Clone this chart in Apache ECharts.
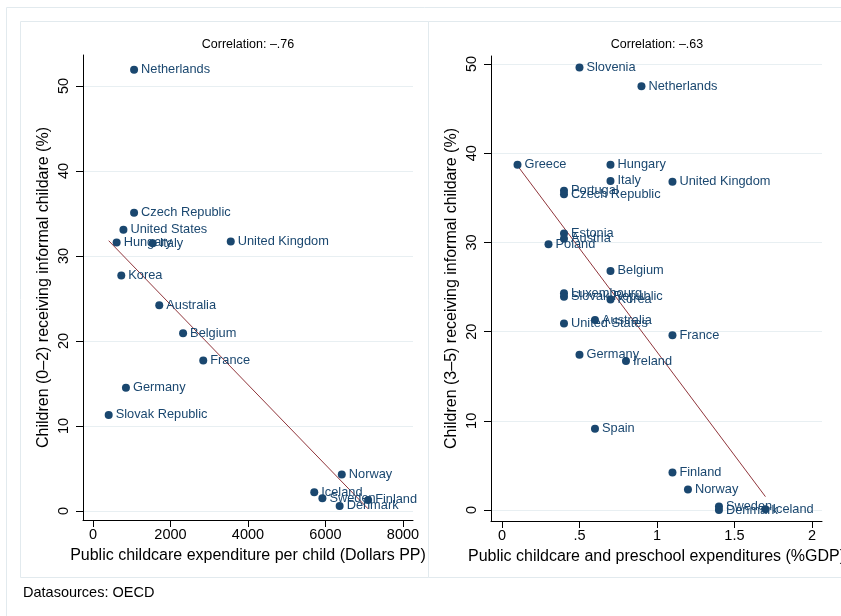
<!DOCTYPE html>
<html>
<head>
<meta charset="utf-8">
<script src="https://cdn.jsdelivr.net/npm/echarts@6/dist/echarts.min.js"></script>
<style>
  html, body { margin: 0; padding: 0; background: #ffffff; }
  #chart { width: 841px; height: 616px; }
</style>
</head>
<body>
<div id="chart"></div>
<script>
// Children 0-2: public childcare spending per child (Dollars PP) vs informal childcare share (%)
const countriesA = ['Netherlands', 'Czech Republic', 'United States', 'Hungary', 'Italy',
  'United Kingdom', 'Korea', 'Australia', 'Belgium', 'France', 'Germany', 'Slovak Republic',
  'Norway', 'Iceland', 'Sweden', 'Finland', 'Denmark'];
const spendA = [1060, 1060, 785, 610, 1540, 3555, 730, 1710, 2325, 2845, 850, 405,
  6420, 5710, 5920, 7100, 6365];
const informalA = [51.9, 35.1, 33.1, 31.6, 31.5, 31.7, 27.7, 24.2, 20.9, 17.7, 14.5, 11.3,
  4.3, 2.2, 1.5, 1.3, 0.6];
// fitted regression line end points (x, y)
const fitA = [[405, 31.8], [7100, 0.25]];

// Children 3-5: public childcare and preschool spending (%GDP) vs informal childcare share (%)
const countriesB = ['Slovenia', 'Netherlands', 'Greece', 'Hungary', 'Italy', 'United Kingdom',
  'Portugal', 'Czech Republic', 'Estonia', 'Austria', 'Poland', 'Belgium', 'Luxembourg',
  'Slovak Republic', 'Korea', 'Australia', 'United States', 'France', 'Germany', 'Ireland',
  'Spain', 'Finland', 'Norway', 'Sweden', 'Denmark', 'Iceland'];
const spendB = [0.5, 0.9, 0.1, 0.7, 0.7, 1.1, 0.4, 0.4, 0.4, 0.4, 0.3, 0.7, 0.4,
  0.4, 0.7, 0.6, 0.4, 1.1, 0.5, 0.8, 0.6, 1.1, 1.2, 1.4, 1.4, 1.7];
const informalB = [49.6, 47.5, 38.7, 38.7, 36.9, 36.8, 35.8, 35.4, 31.0, 30.4, 29.8, 26.8,
  24.3, 23.9, 23.6, 21.3, 20.9, 19.6, 17.4, 16.7, 9.1, 4.2, 2.3, 0.4, 0.0, 0.1];
const fitB = [[0.1, 38.6], [1.7, 1.5]];

const tickXA = [0, 2000, 4000, 6000, 8000];
const tickXB = [0, 0.5, 1, 1.5, 2];
const tickY = [0, 10, 20, 30, 40, 50];
const xLabelB = v => (v === 0 ? '0' : String(v).replace(/^0\./, '.'));

const FONT = '"Liberation Sans", Arial, Helvetica, sans-serif';
const NAVY = '#1a476f';
const FIT = '#90353b';
const GRID = '#e8eff2';
const FRAME = '#e2eaee';

function pts(xs, ys, names) {
  return xs.map((x, i) => ({ name: names[i], value: [x, ys[i]] }));
}

function xAxisCfg(idx, min, max, ticks, name, fmt) {
  return {
    type: 'value', gridIndex: idx, min: min, max: max,
    name: name, nameLocation: 'middle', nameGap: 28,
    nameTextStyle: { fontFamily: FONT, fontSize: 16, color: '#000' },
    axisLine: { show: true, onZero: false, lineStyle: { color: '#000', width: 1 } },
    axisTick: { show: true, length: 7, customValues: ticks, lineStyle: { color: '#000' } },
    axisLabel: { customValues: ticks, margin: 7, fontFamily: FONT, fontSize: 14.5, color: '#000',
      formatter: fmt || (v => String(v)) },
    splitLine: { show: false }
  };
}

function yAxisCfg(idx, min, max, name, gap) {
  return {
    type: 'value', gridIndex: idx, min: min, max: max,
    name: name, nameLocation: 'middle', nameGap: gap, nameRotate: 90,
    nameTextStyle: { fontFamily: FONT, fontSize: 16, color: '#000' },
    axisLine: { show: true, onZero: false, lineStyle: { color: '#000', width: 1 } },
    axisTick: { show: true, length: 7, customValues: tickY, lineStyle: { color: '#000' } },
    axisLabel: { customValues: tickY, rotate: 90, margin: 12, fontFamily: FONT, fontSize: 14.5,
      color: '#000', formatter: v => String(v) },
    splitLine: { show: true, lineStyle: { color: GRID, width: 1 } }
  };
}

function scatter(idx, data) {
  return {
    type: 'scatter', xAxisIndex: idx, yAxisIndex: idx, data: data,
    symbol: 'circle', symbolSize: 8, clip: false,
    itemStyle: { color: NAVY, opacity: 1 },
    label: { show: true, position: 'right', distance: 3, formatter: p => p.name,
      fontFamily: FONT, fontSize: 12.8, color: NAVY },
    emphasis: { disabled: true }, z: 3
  };
}

function fitLine(idx, data) {
  return {
    type: 'line', xAxisIndex: idx, yAxisIndex: idx, data: data,
    showSymbol: false, symbol: 'none', clip: false,
    lineStyle: { color: FIT, width: 1 }, z: 2, emphasis: { disabled: true }
  };
}

const chart = echarts.init(document.getElementById('chart'), null, { renderer: 'canvas' });
chart.setOption({
  animation: false,
  backgroundColor: '#ffffff',
  grid: [
    { left: 83, top: 55, width: 330, height: 465, containLabel: false, outerBoundsMode: 'none' },
    { left: 491, top: 56, width: 331, height: 465, containLabel: false, outerBoundsMode: 'none' }
  ],
  xAxis: [
    xAxisCfg(0, -258, 8258, tickXA, 'Public childcare expenditure per child (Dollars PP)'),
    xAxisCfg(1, -0.071, 2.065, tickXB, 'Public childcare and preschool expenditures (%GDP)', xLabelB)
  ],
  yAxis: [
    yAxisCfg(0, -1.06, 53.65, 'Children (0–2) receiving informal childare (%)', 31),
    yAxisCfg(1, -1.23, 50.9, 'Children (3–5) receiving informal childare (%)', 31)
  ],
  series: [
    fitLine(0, fitA),
    scatter(0, pts(spendA, informalA, countriesA)),
    fitLine(1, fitB),
    scatter(1, pts(spendB, informalB, countriesB))
  ],
  graphic: [
    { type: 'rect', silent: true, z: -10,
      shape: { x: 6.5, y: 7.5, width: 900, height: 700 },
      style: { fill: null, stroke: FRAME, lineWidth: 1 } },
    { type: 'rect', silent: true, z: -10,
      shape: { x: 20.5, y: 21.5, width: 408, height: 556 },
      style: { fill: null, stroke: FRAME, lineWidth: 1 } },
    { type: 'rect', silent: true, z: -10,
      shape: { x: 428.5, y: 21.5, width: 480, height: 556 },
      style: { fill: null, stroke: FRAME, lineWidth: 1 } },
    { type: 'text', x: 248, y: 45, silent: true,
      style: { text: 'Correlation: –.76', font: '12.5px ' + FONT, fill: '#000',
        textAlign: 'center', textVerticalAlign: 'middle' } },
    { type: 'text', x: 657, y: 45, silent: true,
      style: { text: 'Correlation: –.63', font: '12.5px ' + FONT, fill: '#000',
        textAlign: 'center', textVerticalAlign: 'middle' } },
    { type: 'text', x: 23, y: 593, silent: true,
      style: { text: 'Datasources: OECD', font: '14.5px ' + FONT, fill: '#000',
        textAlign: 'left', textVerticalAlign: 'middle' } }
  ]
});
</script>
</body>
</html>
